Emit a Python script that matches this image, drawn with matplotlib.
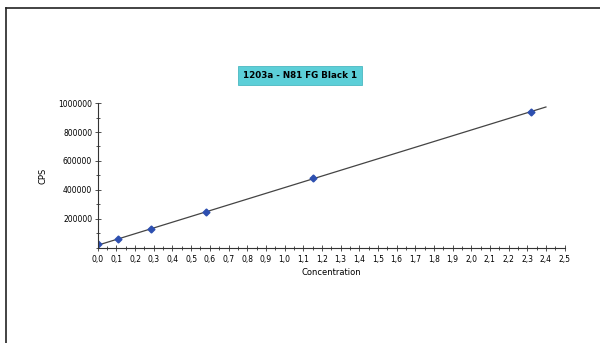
import numpy as np
import matplotlib
matplotlib.use("Agg")
import matplotlib.pyplot as plt
from matplotlib.lines import Line2D
from matplotlib.ticker import MultipleLocator, FuncFormatter

# calibration standards
conc = [0.0, 0.11, 0.285, 0.58, 1.15, 2.32]
cps = [25000, 62000, 128000, 245000, 481000, 940000]
title = "1203a - N81 FG Black 1"
y_ticks = [200000, 400000, 600000, 800000, 1000000]

# linear fit through the standards
k, q = np.polyfit(conc, cps, 1)
xf = np.array([0.0, 2.4])

fig = plt.figure(figsize=(6, 3.43), dpi=100)
ax = fig.add_axes([0.163, 0.277, 0.778, 0.4227])

ax.plot(xf, k * xf + q, color="#444444", lw=0.9)
ax.plot(conc, cps, "D", color="#2d4fb0", ms=3.5, mec="#2d4fb0")

ax.set_xlim(0, 2.5)
ax.set_ylim(0, 1000000)
ax.xaxis.set_major_locator(MultipleLocator(0.1))
ax.xaxis.set_minor_locator(MultipleLocator(0.05))
ax.xaxis.set_major_formatter(FuncFormatter(lambda v, p: f"{v:.1f}".replace(".", ",")))
ax.set_yticks(y_ticks)
ax.set_yticklabels([str(v) for v in y_ticks])
ax.yaxis.set_minor_locator(MultipleLocator(100000))
ax.tick_params(which="both", direction="inout", labelsize=5.5, color="#333333", width=0.6)
ax.tick_params(which="major", length=4)
ax.tick_params(which="minor", length=3)
ax.tick_params(axis="x", pad=3)
ax.tick_params(axis="y", pad=2)

for s in ["top", "right"]:
    ax.spines[s].set_visible(False)
for s in ["left", "bottom"]:
    ax.spines[s].set_color("#333333")
    ax.spines[s].set_linewidth(0.8)

ax.set_xlabel("Concentration", fontsize=6, labelpad=3)
ax.set_ylabel("CPS", fontsize=6, labelpad=8)

fig.text(0.5, 0.78, title, ha="center", va="center", fontsize=6.3,
         fontweight="bold",
         bbox=dict(boxstyle="square,pad=0.55", fc="#5ccfd8", ec="#4ab8c0", lw=0.6))

# frame lines on top and left
fig.add_artist(Line2D([0.01, 1.0], [0.978, 0.978], color="#222222", lw=1.2))
fig.add_artist(Line2D([0.01, 0.01], [0.0, 0.978], color="#222222", lw=1.2))

fig.savefig("out.png", dpi=100)
